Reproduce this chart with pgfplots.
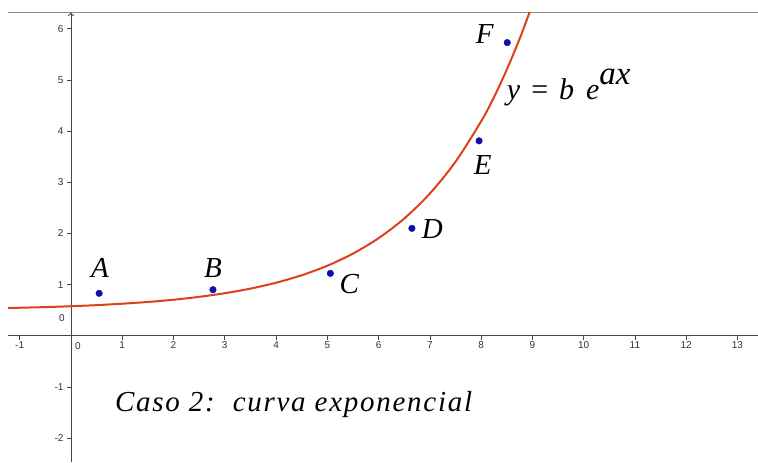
\documentclass[border=0pt]{standalone}
\usepackage{fontspec}
\setmainfont{Liberation Serif}
\newfontfamily\sansf{Liberation Sans}
\usepackage{pgfplots}
\pgfplotsset{compat=1.18}
\usetikzlibrary{arrows.meta}

\definecolor{curvecol}{RGB}{220,65,25}
\definecolor{ptcol}{RGB}{15,15,170}
\definecolor{axcol}{RGB}{70,70,70}

\begin{document}
\begin{tikzpicture}
\begin{axis}[
  scale only axis,
  width=750pt, height=450pt,
  xmin=-1.228, xmax=13.392,
  ymin=-2.461, ymax=6.328,
  axis lines=middle,
  clip=false,
  x axis line style={-, draw=axcol, line width=0.8pt},
  y axis line style={-{To[length=4pt,width=6pt]}, draw=axcol, line width=0.8pt},
  xtick={-1,1,2,3,4,5,6,7,8,9,10,11,12,13},
  ytick={-2,-1,1,2,3,4,5,6},
  tick style={draw=axcol, line width=0.6pt},
  major tick length=4pt,
  tick align=outside,
  /pgf/number format/assume math mode=true,
  ticklabel style={font=\sansf\fontsize{10}{10}\selectfont, text=black!80},
  xticklabel style={anchor=north, yshift=1.5pt},
  yticklabel style={anchor=east, xshift=0pt},
]
% frame line along the top of the view
\draw[gray!90, line width=0.9pt] (axis cs:-1.228,6.328) -- (axis cs:13.392,6.328);
% white margin above and to the left
\path (axis cs:-1.384,6.5625) (axis cs:13.392,-2.461);

% zero labels at the origin
\node[font=\sansf\fontsize{10}{10}\selectfont, text=black!80] at (axis cs:0.136,-0.195) {0};
\node[font=\sansf\fontsize{10}{10}\selectfont, text=black!80] at (axis cs:-0.175,0.35) {0};

% fitted curve
\addplot[curvecol, line width=2pt, smooth] coordinates {
  (-1.228,0.543) (-0.5,0.561) (0,0.578) (0.5,0.599) (1,0.627) (1.5,0.661)
  (2,0.705) (2.5,0.761) (3,0.832) (3.5,0.922) (4,1.037) (4.5,1.183)
  (5,1.369) (5.5,1.606) (6,1.908) (6.5,2.291) (7,2.780) (7.5,3.400)
  (8,4.190) (8.25,4.660) (8.5,5.200) (8.75,5.800) (8.947,6.328)
};

% data points
\addplot[only marks, mark=*, mark size=3.3pt, mark options={fill=ptcol, draw=ptcol}] coordinates {
  (0.55,0.83) (2.77,0.90) (5.06,1.22) (6.65,2.10) (7.96,3.81) (8.51,5.73)
};

% point names
\begin{scope}[every node/.style={anchor=base, font=\fontsize{29}{29}\selectfont\itshape}]
\node at (axis cs:0.565,1.133) {A};
\node at (axis cs:2.768,1.133) {B};
\node at (axis cs:5.43,0.82) {C};
\node at (axis cs:7.05,1.908) {D};
\node at (axis cs:8.03,3.145) {E};
\node at (axis cs:8.07,5.72) {F};
\end{scope}

% model equation
\node[anchor=base west, font=\fontsize{30}{30}\selectfont, inner sep=0pt] at (axis cs:8.50,4.61)
  {\textit{y}\hspace{11pt}=\hspace{11pt}\textit{b}\hspace{12pt}\textit{e}\raisebox{0.5em}{\fontsize{33}{33}\selectfont\textit{ax}}};

% caption
\node[anchor=base west, font=\fontsize{29}{29}\selectfont\itshape\addfontfeatures{LetterSpace=6}, inner sep=0pt] at (axis cs:0.858,-1.484)
  {Caso 2:\ \ curva exponencial};
\end{axis}
\end{tikzpicture}
\end{document}
